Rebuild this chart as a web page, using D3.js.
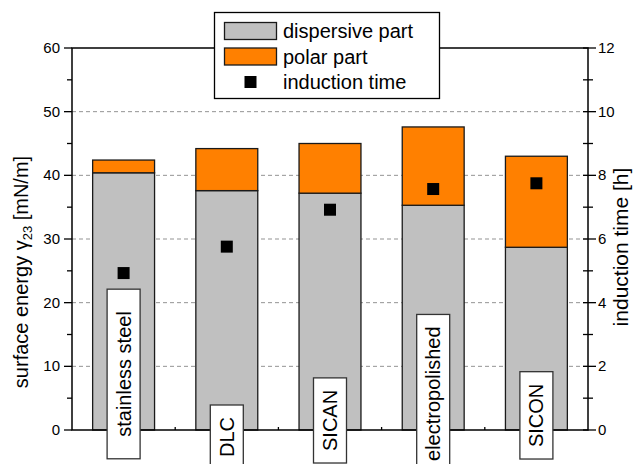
<!DOCTYPE html>
<html>
<head>
<meta charset="utf-8">
<script src="https://cdn.jsdelivr.net/npm/d3@7"></script>
<style>
  body { margin: 0; background: #fff; }
  svg text { font-family: Arial, "Liberation Sans", sans-serif; fill: #000; }
</style>
</head>
<body>
<div id="chart"></div>
<script>
// data
const samples = ["stainless steel", "DLC", "SICAN", "electropolished", "SICON"];
const dispersive = [40.4, 37.6, 37.2, 35.3, 28.7];
const polar = [2.0, 6.6, 7.8, 12.3, 14.3];
const inductionTime = [4.93, 5.76, 6.92, 7.57, 7.75];
const leftTicks = [0, 10, 20, 30, 40, 50, 60];
const rightTicks = [0, 2, 4, 6, 8, 10, 12];
// where the sample name boxes sit (centre, in mN/m)
const labelAt = [8.8, -1.1, 1.5, 5.7, 2.3];

const W = 634, H = 464;
const m = { left: 72, right: 46, top: 48, bottom: 34 };

const svg = d3.select("#chart").append("svg")
  .attr("width", W).attr("height", H);

const x = d3.scaleBand().domain(samples)
  .range([m.left, W - m.right]).paddingInner(0.4).paddingOuter(0.2);
const y = d3.scaleLinear().domain([0, 60]).range([H - m.bottom, m.top]);
const y2 = d3.scaleLinear().domain([0, 12]).range([H - m.bottom, m.top]);

// dashed grid
svg.append("g").selectAll("line")
  .data(leftTicks.filter(d => d > 0 && d < 60))
  .join("line")
  .attr("x1", m.left).attr("x2", W - m.right)
  .attr("y1", d => y(d)).attr("y2", d => y(d))
  .attr("stroke", "#939393").attr("stroke-width", 1)
  .attr("stroke-dasharray", "4,3");

// stacked bars
const bars = svg.append("g");
bars.selectAll("rect.disp")
  .data(samples)
  .join("rect")
  .attr("class", "disp")
  .attr("x", d => x(d)).attr("width", x.bandwidth())
  .attr("y", (d, i) => y(dispersive[i]))
  .attr("height", (d, i) => y(0) - y(dispersive[i]))
  .attr("fill", "#c0c0c0").attr("stroke", "#1a1a1a").attr("stroke-width", 1.3);
bars.selectAll("rect.pol")
  .data(samples)
  .join("rect")
  .attr("class", "pol")
  .attr("x", d => x(d)).attr("width", x.bandwidth())
  .attr("y", (d, i) => y(dispersive[i] + polar[i]))
  .attr("height", (d, i) => y(dispersive[i]) - y(dispersive[i] + polar[i]))
  .attr("fill", "#ff8000").attr("stroke", "#1a1a1a").attr("stroke-width", 1.3);

// induction time points
const sq = 12;
svg.append("g").selectAll("rect")
  .data(samples)
  .join("rect")
  .attr("x", d => x(d) + x.bandwidth() / 2 - sq / 2)
  .attr("y", (d, i) => y2(inductionTime[i]) - sq / 2)
  .attr("width", sq).attr("height", sq)
  .attr("fill", "#000");

// left axis ticks + labels
const left = svg.append("g");
left.selectAll("line")
  .data(d3.range(0, 61, 5))
  .join("line")
  .attr("x1", d => m.left - (d % 10 === 0 ? 8 : 5)).attr("x2", m.left)
  .attr("y1", d => y(d)).attr("y2", d => y(d))
  .attr("stroke", "#000").attr("stroke-width", 1.3);
left.selectAll("text")
  .data(leftTicks)
  .join("text")
  .attr("x", m.left - 12).attr("y", d => y(d) + 5)
  .attr("text-anchor", "end").attr("font-size", 15)
  .text(d => d);

// right axis ticks + labels
const xr = W - m.right;
const right = svg.append("g");
right.selectAll("line")
  .data(d3.range(0, 12.1, 1))
  .join("line")
  .attr("x1", xr - 5).attr("x2", d => xr + (d % 2 === 0 ? 8 : 5))
  .attr("y1", d => y2(d)).attr("y2", d => y2(d))
  .attr("stroke", "#000").attr("stroke-width", 1.3);
right.selectAll("text")
  .data(rightTicks)
  .join("text")
  .attr("x", xr + 10).attr("y", d => y2(d) + 5)
  .attr("font-size", 15)
  .text(d => d);

// small ticks between bars on the bottom line
const step = x.step();
svg.append("g").selectAll("line")
  .data(samples.slice(1))
  .join("line")
  .attr("x1", d => x(d) - step * 0.2).attr("x2", d => x(d) - step * 0.2)
  .attr("y1", y(0) - 3).attr("y2", y(0))
  .attr("stroke", "#000").attr("stroke-width", 1.3);

// frame
svg.append("rect")
  .attr("x", m.left).attr("y", m.top)
  .attr("width", W - m.left - m.right).attr("height", y(0) - m.top)
  .attr("fill", "none").attr("stroke", "#000").attr("stroke-width", 1.5);

// sample name boxes
const labels = svg.append("g");
samples.forEach((name, i) => {
  const cx = x(name) + x.bandwidth() / 2;
  const cy = y(labelAt[i]);
  const g = labels.append("g");
  const box = g.append("rect");
  const t = g.append("text")
    .attr("transform", `translate(${cx + 7},${cy}) rotate(-90)`)
    .attr("text-anchor", "middle").attr("font-size", 20)
    .text(name);
  const len = t.node().getComputedTextLength();
  const pad = i === 0 ? 22 : 12;
  box.attr("x", cx - 16.5).attr("width", 33)
    .attr("y", cy - len / 2 - pad).attr("height", len + 2 * pad)
    .attr("fill", "#fff").attr("stroke", "#333").attr("stroke-width", 1.3);
});

// axis titles
const lt = svg.append("text")
  .attr("transform", `translate(28,${(y(0) + m.top) / 2 + 33}) rotate(-90)`)
  .attr("text-anchor", "middle").attr("font-size", 20);
lt.append("tspan").text("surface energy ");
lt.append("tspan").text("γ");
lt.append("tspan").attr("font-size", 13).attr("dy", 4).text("23");
lt.append("tspan").attr("dy", -4).text("  [mN/m]");

svg.append("text")
  .attr("transform", `translate(628,${(y(0) + m.top) / 2 + 8}) rotate(-90)`)
  .attr("text-anchor", "middle").attr("font-size", 21)
  .text("induction time [h]");

// legend
const lg = svg.append("g");
lg.append("rect")
  .attr("x", 214.5).attr("y", 12.5).attr("width", 225).attr("height", 86)
  .attr("fill", "#fff").attr("stroke", "#000").attr("stroke-width", 1.3);
const legendItems = ["dispersive part", "polar part", "induction time"];
const legendFill = ["#c0c0c0", "#ff8000", "#000"];
legendItems.forEach((label, i) => {
  const ly = 31 + i * 25.5;
  if (i < 2) {
    lg.append("rect")
      .attr("x", 224.5).attr("y", ly - 8.5).attr("width", 52).attr("height", 17)
      .attr("fill", legendFill[i]).attr("stroke", "#1a1a1a").attr("stroke-width", 1.3);
  } else {
    lg.append("rect")
      .attr("x", 250.5 - sq / 2).attr("y", ly - sq / 2).attr("width", sq).attr("height", sq)
      .attr("fill", legendFill[i]);
  }
  lg.append("text")
    .attr("x", 283).attr("y", ly + 7)
    .attr("font-size", 20)
    .text(label);
});
</script>
</body>
</html>
